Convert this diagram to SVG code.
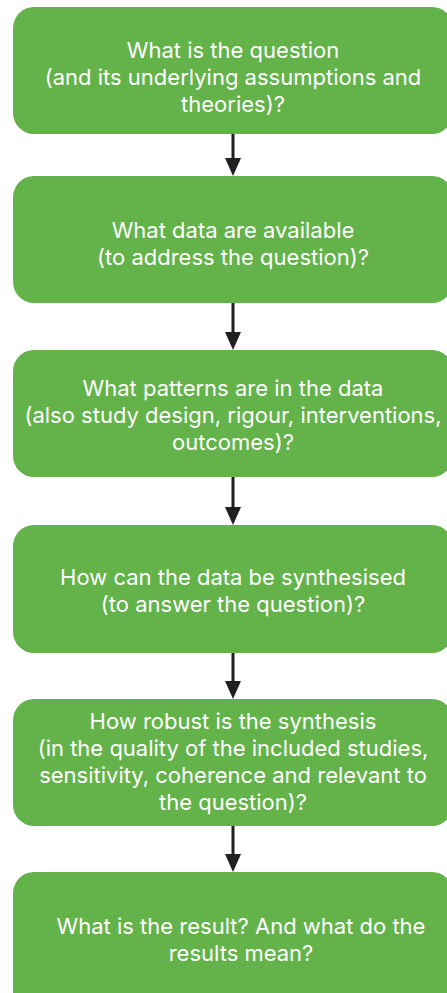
<svg xmlns="http://www.w3.org/2000/svg" width="447" height="993" viewBox="0 0 447 993">
<style>
.box{fill:#63b34a}
.t{fill:#fff;font-family:Inter,"Open Sans",sans-serif;font-size:22px;text-anchor:middle}
.c{stroke:#231f20;stroke-width:3;fill:none}
.h{fill:#231f20}
</style>
<rect width="447" height="993" fill="#fff"/>
<g id="n1"><rect class="box" x="13" y="7" width="440" height="127" rx="21"/>
<text class="t" y="58"><tspan x="233">What is the question</tspan><tspan x="233" dy="27">(and its underlying assumptions and</tspan><tspan x="233" dy="27">theories)?</tspan></text></g>
<g id="n2"><rect class="box" x="13" y="176" width="440" height="127" rx="21"/>
<text class="t" y="238"><tspan x="233">What data are available</tspan><tspan x="233" dy="27">(to address the question)?</tspan></text></g>
<g id="n3"><rect class="box" x="13" y="350" width="440" height="127" rx="21"/>
<text class="t" y="396"><tspan x="233">What patterns are in the data</tspan><tspan x="233" dy="27">(also study design, rigour, interventions,</tspan><tspan x="233" dy="27">outcomes)?</tspan></text></g>
<g id="n4"><rect class="box" x="13" y="525" width="440" height="128" rx="21"/>
<text class="t" y="585"><tspan x="233">How can the data be synthesised</tspan><tspan x="233" dy="27">(to answer the question)?</tspan></text></g>
<g id="n5"><rect class="box" x="13" y="699" width="440" height="127" rx="21"/>
<text class="t" y="729"><tspan x="233">How robust is the synthesis</tspan><tspan x="233" dy="27">(in the quality of the included studies,</tspan><tspan x="233" dy="27">sensitivity, coherence and relevant to</tspan><tspan x="233" dy="27">the question)?</tspan></text></g>
<g id="n6"><rect class="box" x="13" y="872" width="440" height="140" rx="21"/>
<text class="t" y="934"><tspan x="241">What is the result? And what do the</tspan><tspan x="241" dy="27">results mean?</tspan></text></g>
<g id="connectors">
<line class="c" x1="233" y1="134" x2="233" y2="160"/><polygon class="h" points="225,158 241,158 233,176"/>
<line class="c" x1="233" y1="303" x2="233" y2="334"/><polygon class="h" points="225,332 241,332 233,350"/>
<line class="c" x1="233" y1="477" x2="233" y2="509"/><polygon class="h" points="225,507 241,507 233,525"/>
<line class="c" x1="233" y1="653" x2="233" y2="683"/><polygon class="h" points="225,681 241,681 233,699"/>
<line class="c" x1="233" y1="826" x2="233" y2="856"/><polygon class="h" points="225,854 241,854 233,872"/>
</g>
</svg>
